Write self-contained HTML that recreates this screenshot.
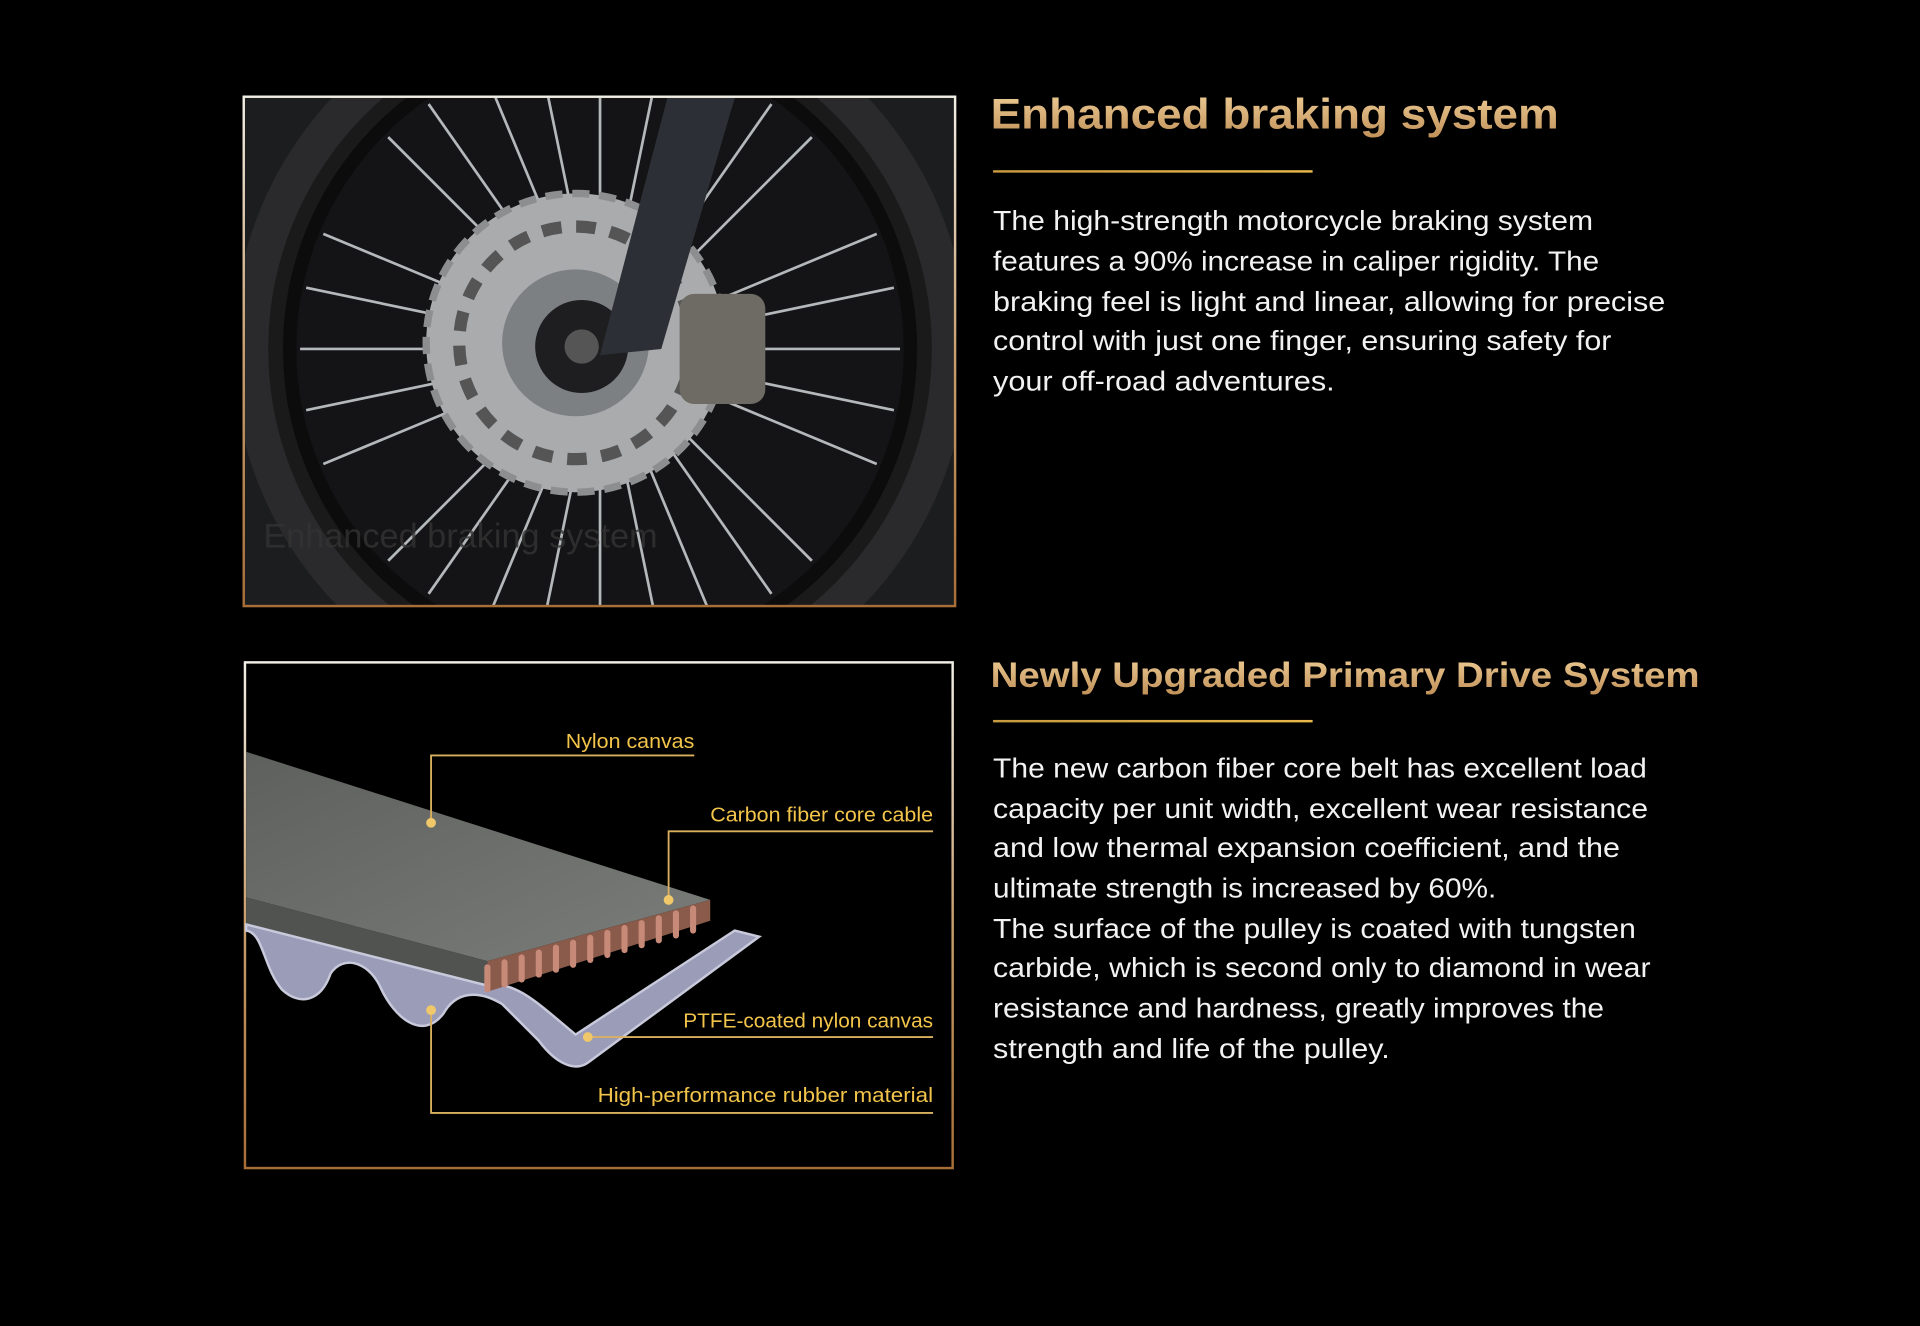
<!DOCTYPE html>
<html><head><meta charset="utf-8"><style>
html,body{margin:0;padding:0;background:#000;width:1920px;height:1326px;overflow:hidden}
svg{display:block}
text{font-family:"Liberation Sans","DejaVu Sans",sans-serif}
</style></head><body>
<svg width="1920" height="1326" viewBox="0 0 1568 1083" xmlns="http://www.w3.org/2000/svg">
<defs>
<linearGradient id="bd" x1="0" y1="0" x2="0" y2="1">
<stop offset="0" stop-color="#f2efe6"/><stop offset="0.5" stop-color="#c9a070"/><stop offset="1" stop-color="#a86e38"/></linearGradient>
<linearGradient id="tt" x1="0" y1="0" x2="0" y2="1">
<stop offset="0" stop-color="#f0cf98"/><stop offset="1" stop-color="#c09058"/></linearGradient>
<linearGradient id="ul" x1="0" y1="0" x2="1" y2="0">
<stop offset="0" stop-color="#c89a40"/><stop offset="1" stop-color="#e8b84a"/></linearGradient>
<clipPath id="c1"><rect x="200" y="80" width="580" height="415"/></clipPath>
<linearGradient id="top" x1="0" y1="0" x2="1" y2="1"><stop offset="0" stop-color="#5e605d"/><stop offset="1" stop-color="#7a7d79"/></linearGradient>
</defs>
<rect width="1568" height="1083" fill="#000"/>
<g clip-path="url(#c1)">
<rect x="200" y="80" width="580" height="415" fill="#1c1d1f"/>
<circle cx="490" cy="285" r="300" fill="#2a2a2c"/>
<circle cx="490" cy="285" r="265" fill="#0c0c0d" stroke="#1a1a1a" stroke-width="12"/>
<circle cx="490" cy="285" r="248" fill="#141416"/>
<g stroke="#b5b8bb" stroke-width="2.2">
<line x1="490" y1="285" x2="490" y2="40"/><line x1="490" y1="285" x2="490" y2="530"/>
<line x1="490" y1="285" x2="245" y2="285"/><line x1="490" y1="285" x2="735" y2="285"/>
<line x1="490" y1="285" x2="317" y2="112"/><line x1="490" y1="285" x2="663" y2="458"/>
<line x1="490" y1="285" x2="663" y2="112"/><line x1="490" y1="285" x2="317" y2="458"/>
<line x1="490" y1="285" x2="396" y2="59"/><line x1="490" y1="285" x2="584" y2="511"/>
<line x1="490" y1="285" x2="584" y2="59"/><line x1="490" y1="285" x2="396" y2="511"/>
<line x1="490" y1="285" x2="264" y2="191"/><line x1="490" y1="285" x2="716" y2="379"/>
<line x1="490" y1="285" x2="716" y2="191"/><line x1="490" y1="285" x2="264" y2="379"/>
<line x1="490" y1="285" x2="350" y2="85"/><line x1="490" y1="285" x2="630" y2="485"/>
<line x1="490" y1="285" x2="630" y2="85"/><line x1="490" y1="285" x2="350" y2="485"/>
<line x1="490" y1="285" x2="250" y2="235"/><line x1="490" y1="285" x2="730" y2="335"/>
<line x1="490" y1="285" x2="730" y2="235"/><line x1="490" y1="285" x2="250" y2="335"/>
<line x1="490" y1="285" x2="440" y2="42"/><line x1="490" y1="285" x2="540" y2="528"/>
<line x1="490" y1="285" x2="540" y2="42"/><line x1="490" y1="285" x2="440" y2="528"/>
</g>
<circle cx="470" cy="280" r="122" fill="#a9abad" stroke="#8c8e90" stroke-width="6" stroke-dasharray="14 8"/>
<circle cx="470" cy="280" r="95" fill="none" stroke="#555" stroke-width="10" stroke-dasharray="16 12"/>
<circle cx="470" cy="280" r="60" fill="#7d8083"/>
<circle cx="475" cy="283" r="38" fill="#1e1e20"/>
<circle cx="475" cy="283" r="14" fill="#555"/>
<polygon points="545,80 600,80 540,285 490,290" fill="#2c3036"/>
<rect x="555" y="240" width="70" height="90" rx="12" fill="#6e6a64"/>
<text x="215" y="447" font-size="28" fill="#333" fill-opacity="0.8">Enhanced braking system</text>
</g>
<rect x="199" y="79" width="581" height="416" fill="none" stroke="url(#bd)" stroke-width="2"/>
<rect x="200" y="541" width="578" height="413" fill="#000" stroke="url(#bd)" stroke-width="2"/>
<polygon points="201,614 580,735 398,785 201,733" fill="url(#top)"/>
<polygon points="201,733 398,785 398,810 201,760" fill="#505350"/>
<path d="M201,760 C215,762 215,790 230,808 C245,822 262,818 270,795 C280,780 300,785 310,805 C322,832 345,850 362,828 C372,810 390,808 410,820 L440,850 C455,870 470,875 480,868 L620,765 L600,760 L470,845 C440,820 420,800 398,805 L201,755 Z" fill="#9a9cb8" stroke="#c8cadc" stroke-width="2"/>
<polygon points="398,785 580,735 580,752 398,810" fill="#8a5a4a"/>
<g stroke="#c88a78" stroke-width="5" stroke-linecap="round">
<line x1="398" y1="790" x2="398" y2="808"/><line x1="412" y1="786" x2="412" y2="804"/><line x1="426" y1="782" x2="426" y2="800"/>
<line x1="440" y1="778" x2="440" y2="796"/><line x1="454" y1="774" x2="454" y2="792"/><line x1="468" y1="770" x2="468" y2="788"/>
<line x1="482" y1="766" x2="482" y2="784"/><line x1="496" y1="762" x2="496" y2="780"/><line x1="510" y1="758" x2="510" y2="776"/>
<line x1="524" y1="754" x2="524" y2="772"/><line x1="538" y1="750" x2="538" y2="768"/><line x1="552" y1="746" x2="552" y2="764"/><line x1="566" y1="742" x2="566" y2="760"/>
</g>
<g stroke="#d9b060" stroke-width="1.5" fill="none">
<polyline points="352,672 352,617 567,617"/>
<polyline points="546,735 546,679 762,679"/>
<polyline points="480,847 762,847"/>
<polyline points="352,825 352,909 762,909"/>
</g>
<g fill="#f0c86a"><circle cx="352" cy="672" r="4"/><circle cx="546" cy="735" r="4"/><circle cx="480" cy="847" r="4"/><circle cx="352" cy="825" r="4"/></g>
<g fill="#f2c44a" font-size="16.5">
<text x="462" y="611" textLength="105" lengthAdjust="spacingAndGlyphs">Nylon canvas</text>
<text x="580" y="671" textLength="182" lengthAdjust="spacingAndGlyphs">Carbon fiber core cable</text>
<text x="558" y="839" textLength="204" lengthAdjust="spacingAndGlyphs">PTFE-coated nylon canvas</text>
<text x="488" y="900" textLength="274" lengthAdjust="spacingAndGlyphs">High-performance rubber material</text>
</g>
<text x="809" y="105" font-size="35" font-weight="bold" fill="url(#tt)" textLength="464" lengthAdjust="spacingAndGlyphs">Enhanced braking system</text>
<rect x="811" y="139" width="261" height="2" fill="url(#ul)"/>
<g font-size="22.5" fill="#f2f2f2">
<text x="811" y="188" textLength="490" lengthAdjust="spacingAndGlyphs">The high-strength motorcycle braking system</text>
<text x="811" y="221" textLength="495" lengthAdjust="spacingAndGlyphs">features a 90% increase in caliper rigidity. The</text>
<text x="811" y="254" textLength="549" lengthAdjust="spacingAndGlyphs">braking feel is light and linear, allowing for precise</text>
<text x="811" y="286" textLength="505" lengthAdjust="spacingAndGlyphs">control with just one finger, ensuring safety for</text>
<text x="811" y="319" textLength="279" lengthAdjust="spacingAndGlyphs">your off-road adventures.</text>
</g>
<text x="809" y="561" font-size="29" font-weight="bold" fill="url(#tt)" textLength="579" lengthAdjust="spacingAndGlyphs">Newly Upgraded Primary Drive System</text>
<rect x="811" y="588" width="261" height="2" fill="url(#ul)"/>
<g font-size="22.5" fill="#f2f2f2">
<text x="811" y="635" textLength="534" lengthAdjust="spacingAndGlyphs">The new carbon fiber core belt has excellent load</text>
<text x="811" y="668" textLength="535" lengthAdjust="spacingAndGlyphs">capacity per unit width, excellent wear resistance</text>
<text x="811" y="700" textLength="512" lengthAdjust="spacingAndGlyphs">and low thermal expansion coefficient, and the</text>
<text x="811" y="733" textLength="411" lengthAdjust="spacingAndGlyphs">ultimate strength is increased by 60%.</text>
<text x="811" y="766" textLength="525" lengthAdjust="spacingAndGlyphs">The surface of the pulley is coated with tungsten</text>
<text x="811" y="798" textLength="537" lengthAdjust="spacingAndGlyphs">carbide, which is second only to diamond in wear</text>
<text x="811" y="831" textLength="499" lengthAdjust="spacingAndGlyphs">resistance and hardness, greatly improves the</text>
<text x="811" y="864" textLength="324" lengthAdjust="spacingAndGlyphs">strength and life of the pulley.</text>
</g>
</svg>
</body></html>
